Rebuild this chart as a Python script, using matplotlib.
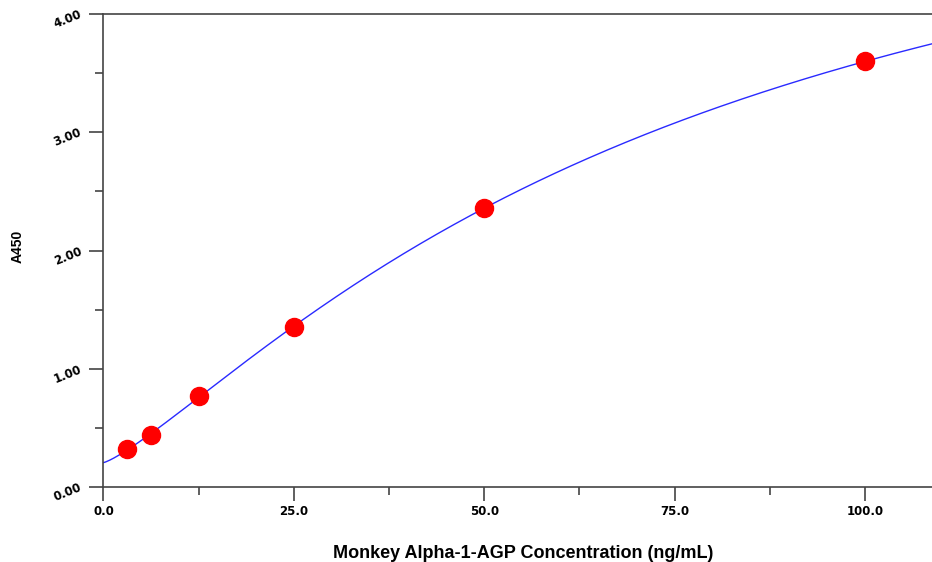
import numpy as np
import matplotlib
matplotlib.use('Agg')
from matplotlib import pyplot as plt
from matplotlib.ticker import MultipleLocator, FormatStrFormatter

# Puntos estándar (concentración ng/mL, absorbancia A450)
concentracion = [3.125, 6.25, 12.5, 25.0, 50.0, 100.0]
a450 = [0.32, 0.44, 0.77, 1.35, 2.36, 3.60]

x_ticks = [0.0, 25.0, 50.0, 75.0, 100.0]
y_ticks = [0.0, 1.0, 2.0, 3.0, 4.0]


def ajuste_4pl(x, y):
    # Búsqueda en rejilla sobre b y c; a y d por mínimos cuadrados lineales
    x = np.asarray(x)
    y = np.asarray(y)
    mejor = None
    for b in np.linspace(0.8, 2.5, 86):
        for c in np.linspace(20, 400, 381):
            f = 1.0 / (1.0 + (x / c) ** b)
            A = np.column_stack([f, 1 - f])
            coef, *_ = np.linalg.lstsq(A, y, rcond=None)
            res = np.sum((A @ coef - y) ** 2)
            if mejor is None or res < mejor[0]:
                mejor = (res, coef[0], b, c, coef[1])
    return mejor[1:]


a, b, c, d = ajuste_4pl(concentracion, a450)
xs = np.linspace(0, 110, 400)
ys = d + (a - d) / (1 + (xs / c) ** b)

fig = plt.figure(figsize=(9.32, 5.62), dpi=100)
ax = fig.add_axes([0.111, 0.1335, 0.889, 0.8415])

ax.plot(xs, ys, color='#2a2aff', lw=1.0, zorder=2)
ax.plot(concentracion, a450, 'o', color='#ff0000', markersize=13, zorder=3, clip_on=False)

ax.set_xlim(0, 108.8)
ax.set_ylim(0, 4.0)

ax.set_xticks(x_ticks)
ax.set_yticks(y_ticks)
ax.xaxis.set_minor_locator(MultipleLocator(12.5))
ax.yaxis.set_minor_locator(MultipleLocator(0.5))
ax.xaxis.set_major_formatter(FormatStrFormatter('%.1f'))
ax.yaxis.set_major_formatter(FormatStrFormatter('%.2f'))

for s in ['left', 'bottom', 'top']:
    ax.spines[s].set_color('#444444')
    ax.spines[s].set_linewidth(1.2)
ax.spines['right'].set_visible(False)

ax.tick_params(which='major', direction='out', length=10, width=1.2, color='#444444')
ax.tick_params(which='minor', direction='out', length=6, width=1.2, color='#444444')
ax.tick_params(axis='x', pad=3)
ax.tick_params(axis='y', pad=6)

for lbl in ax.get_xticklabels():
    lbl.set_fontweight('bold')
    lbl.set_fontsize(8.5)
    lbl.set_family('DejaVu Sans')
for lbl in ax.get_yticklabels():
    lbl.set_fontweight('bold')
    lbl.set_fontsize(8.5)
    lbl.set_family('DejaVu Sans')
    lbl.set_rotation(22)
    lbl.set_rotation_mode('anchor')
    lbl.set_va('center')
    lbl.set_ha('right')

ax.set_xlabel('Monkey Alpha-1-AGP Concentration (ng/mL)', fontsize=13,
              fontweight='bold', family='Liberation Sans')
ax.xaxis.set_label_coords(0.506, -0.150)
ax.xaxis.label.set_va('baseline')

ax.set_ylabel('A450', fontsize=10, fontweight='bold', family='Liberation Sans')
ax.yaxis.set_label_coords(-0.104, 0.509)
ax.yaxis.label.set_va('center')

fig.savefig('out.png', dpi=100)
